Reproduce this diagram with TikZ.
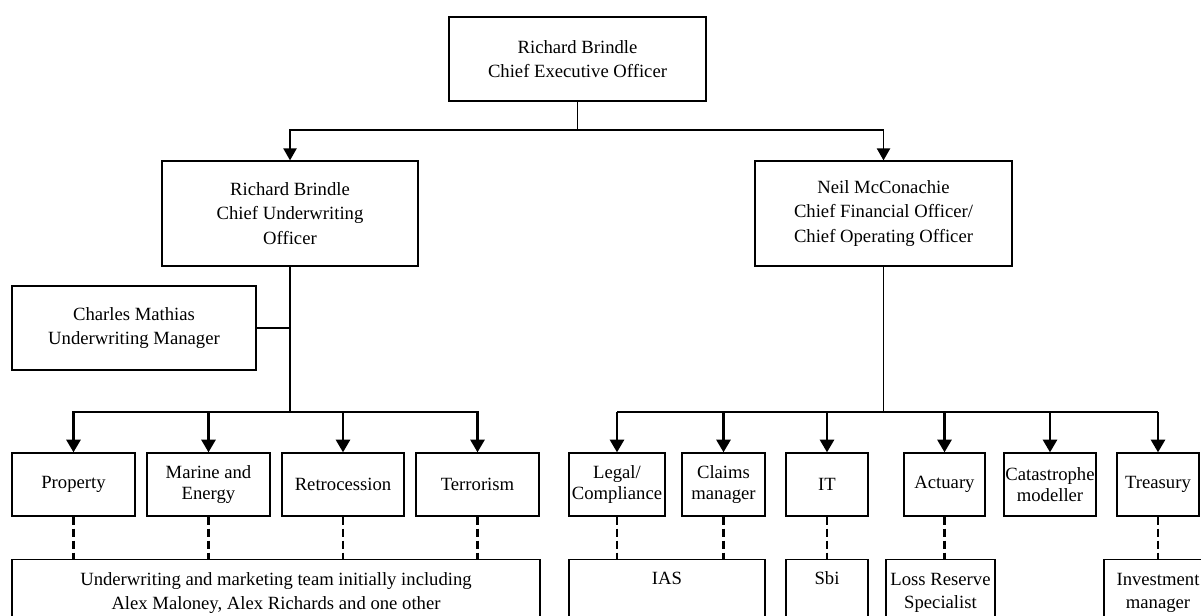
\documentclass[tikz,border=0pt]{standalone}
\usepackage{fontspec}
\setmainfont{Liberation Serif}
\usetikzlibrary{arrows.meta}

\begin{document}
\begin{tikzpicture}[x=0.75pt,y=-0.75pt,
    %
    box/.style={rectangle, draw, line width=1pt, align=center, inner sep=1pt,
    font=\fontsize{14}{18.5}\selectfont},
    unit/.style={box, minimum height=47.25pt, font=\fontsize{14}{16}\selectfont},
    team/.style={box, minimum height=50.25pt, font=\fontsize{14}{17.5}\selectfont},
    arr/.style={line width=1pt, -{Triangle[width=10pt,length=9pt]}},
    fatarr/.style={line width=2pt, -{Triangle[width=10.5pt,length=9.5pt]}},
    dots/.style={line width=1.8pt, dash pattern=on 6pt off 3pt}]
    \useasboundingbox (0,0) rectangle (1201,615);
    \clip (0,0) rectangle (1201,615);
    % officers
    \node[box, minimum width=192.75pt, minimum height=63pt] (ceo) at (577.5,59)
        {Richard Brindle\\Chief Executive Officer};
    \node[box, minimum width=192pt, minimum height=78.75pt] (cuo) at (290,213.5)
        {Richard Brindle\\Chief Underwriting\\Officer};
    \node[box, minimum width=192.75pt, minimum height=78.75pt] (cfo) at (883.5,213.5)
        {Neil McConachie\\Chief Financial Officer/\\Chief Operating Officer};
    \node[box, minimum width=183pt, minimum height=63pt] (cm) at (134,328)
        {Charles Mathias\\Underwriting Manager};
    % underwriting units
    \node[unit, minimum width=92.25pt] (prop) at (73.5,484.5) {Property};
    \node[unit, minimum width=92.25pt] (marine) at (208.5,484.5) {Marine and\\Energy};
    \node[unit, minimum width=91.5pt] (retro) at (343,484.5) {Retrocession};
    \node[unit, minimum width=92.25pt] (terror) at (477.5,484.5) {Terrorism};
    % operating units
    \node[unit, minimum width=72pt] (legal) at (617,484.5) {Legal/\\Compliance};
    \node[unit, minimum width=62.25pt] (claims) at (723.5,484.5) {Claims\\manager};
    \node[unit, minimum width=61.5pt] (it) at (827,484.5) {IT};
    \node[unit, minimum width=60.75pt] (act) at (944.5,484.5) {Actuary};
    \node[unit, minimum width=69pt] (cat) at (1050,484.5) {Catastrophe\\modeller};
    \node[unit, minimum width=61.5pt] (treas) at (1158,484.5) {Treasury};
    % outsourced / teams
    \node[team, minimum width=396pt] (uwteam) at (276,593)
        {Underwriting and marketing team initially including\\Alex Maloney, Alex Richards and one other};
    \node[team, minimum width=147pt] (ias) at (667,593) {IAS\\\strut};
    \node[team, minimum width=61.5pt] (sbi) at (827,593) {Sbi\\\strut};
    \node[team, minimum width=81.75pt] (lrs) at (940.5,593) {Loss Reserve\\Specialist};
    \node[team, minimum width=81pt] (inv) at (1158,593) {Investment\\manager};

    % reporting lines
    \coordinate (topbus) at (577.5,130);
    \coordinate (uwbus) at (290,412);
    \coordinate (opbus) at (883.5,412);
    \draw[line width=1pt] (ceo.south) -- (topbus);
    \draw[arr] (topbus) -| (cuo.north);
    \draw[arr] (topbus) -| (cfo.north);
    \draw[line width=1pt] (cuo.south) -- (uwbus);
    \draw[line width=1pt] (cm.east) -- (cm.east -| uwbus);
    \draw[line width=1pt] (cfo.south) -- (opbus);

    \draw[fatarr] (uwbus) -| (prop.north);
    \draw[fatarr] (uwbus) -| (marine.north);
    \draw[fatarr] (uwbus) -| (retro.north);
    \draw[fatarr] (uwbus) -| (terror.north);

    \draw[line width=1.4pt] (legal.north |- opbus) -- (treas.north |- opbus);
    \draw[fatarr] (legal.north |- opbus) -- (legal.north);
    \draw[fatarr] (claims.north |- opbus) -- (claims.north);
    \draw[fatarr] (it.north |- opbus) -- (it.north);
    \draw[fatarr] (act.north |- opbus) -- (act.north);
    \draw[fatarr] (cat.north |- opbus) -- (cat.north);
    \draw[fatarr] (treas.north |- opbus) -- (treas.north);

    % dotted links
    \draw[dots] (prop.south) -- (prop.south |- uwteam.north);
    \draw[dots] (marine.south) -- (marine.south |- uwteam.north);
    \draw[dots] (retro.south) -- (retro.south |- uwteam.north);
    \draw[dots] (terror.south) -- (terror.south |- uwteam.north);
    \draw[dots] (legal.south) -- (legal.south |- ias.north);
    \draw[dots] (claims.south) -- (claims.south |- ias.north);
    \draw[dots] (it.south) -- (sbi.north);
    \draw[dots] (act.south) -- (act.south |- lrs.north);
    \draw[dots] (treas.south) -- (inv.north);
\end{tikzpicture}
\end{document}
